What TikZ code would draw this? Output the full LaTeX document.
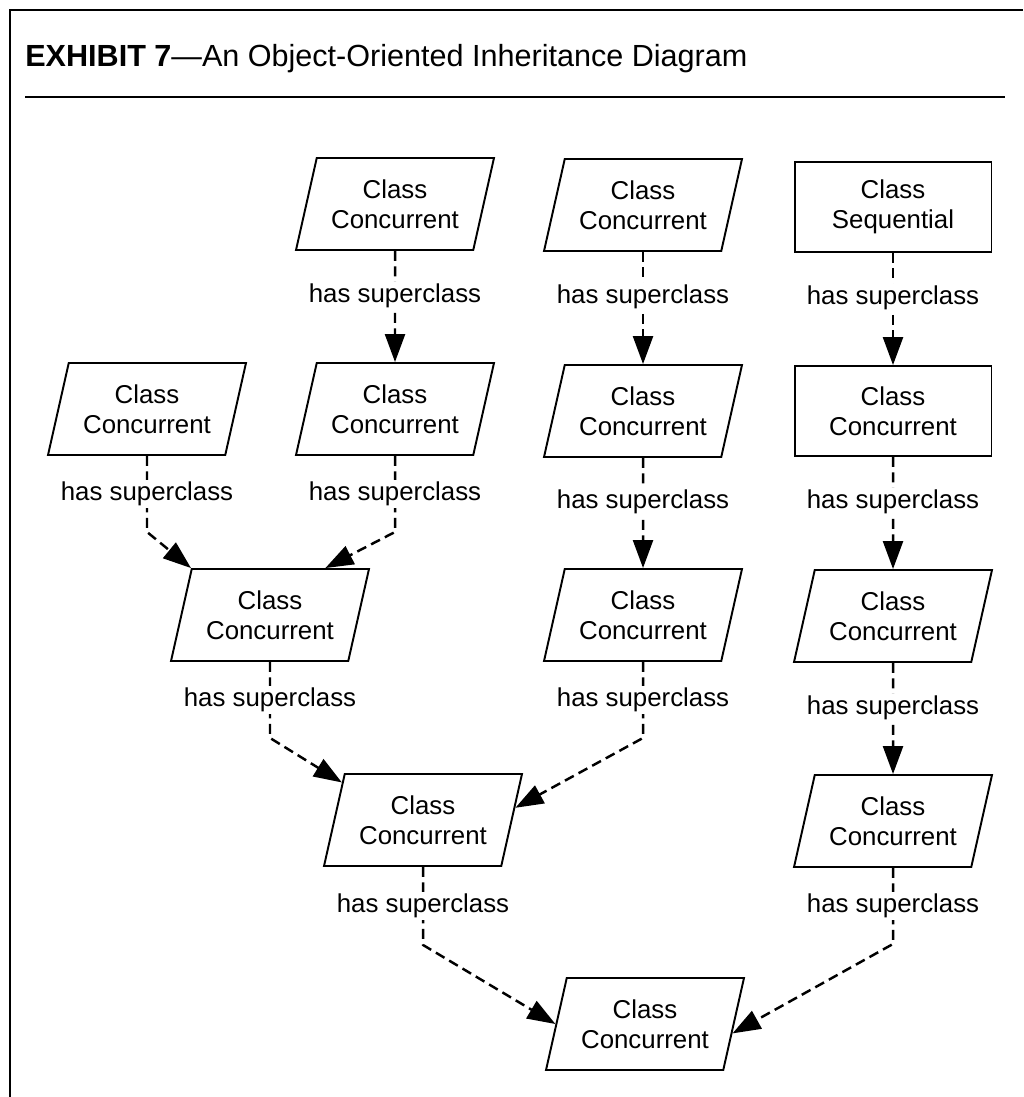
\documentclass[tikz,border=0pt]{standalone}
\usepackage{fontspec}
\setmainfont{Liberation Sans}
\usetikzlibrary{arrows.meta, shapes.geometric, calc}

\begin{document}
\begin{tikzpicture}[
    x=0.02cm, y=-0.02cm,
    font=\fontsize{14.7}{17}\selectfont,
    para/.style = {
        trapezium,
        trapezium left angle=67,
        trapezium right angle=113,
        trapezium stretches body,
        draw,
        line width=1.1pt,
        align=center,
        inner sep=0pt,
        minimum height=1.84cm,
        minimum width=3.96cm
    },
    box/.style = {
        rectangle,
        draw,
        line width=1.1pt,
        align=center,
        minimum height=1.8cm,
        minimum width=3.94cm
    },
    link/.style = {
        line width=1.4pt,
        dash pattern=on 0.2cm off 0.11cm,
        -{Triangle[length=0.56cm, width=0.4cm]}
    },
    lbl/.style = {fill=white, inner sep=1pt}
]

\useasboundingbox (0,0) rectangle (1023,1097);

% Frame and title
\draw[line width=1.3pt] (10,1097) -- (10,10) -- (1023,10);
\node[anchor=base west, inner sep=0pt, font=\fontsize{17.4}{20}\selectfont] (title) at (25,67)
    {\textbf{EXHIBIT 7}---An Object-Oriented Inheritance Diagram};
\draw[line width=1.3pt] (25,97) -- (1005,97);

% Classes with explicit coordinates
\node[para] (b1) at (395,204)  {Class\\Concurrent};
\node[para] (c1) at (643,205)  {Class\\Concurrent};
\node[box]  (d1) at (893,207)  {Class\\Sequential};

\node[para] (a2) at (147,409)  {Class\\Concurrent};
\node[para] (b2) at (395,409)  {Class\\Concurrent};
\node[para] (c2) at (643,411)  {Class\\Concurrent};
\node[box]  (d2) at (893,411)  {Class\\Concurrent};

\node[para] (e3) at (270,615)  {Class\\Concurrent};
\node[para] (c3) at (643,615)  {Class\\Concurrent};
\node[para] (d3) at (893,616)  {Class\\Concurrent};

\node[para] (f4) at (423,820)  {Class\\Concurrent};
\node[para] (d4) at (893,821)  {Class\\Concurrent};

\node[para] (g5) at (645,1024) {Class\\Concurrent};

% Straight superclass links
\draw[link] (b1) -- node[lbl, pos=0.4] {has superclass} (b2);
\draw[link] (c1) -- node[lbl, pos=0.4] {has superclass} (c2);
\draw[link] (c2) -- node[lbl, pos=0.4] {has superclass} (c3);
\draw[link] (d1) -- node[lbl, pos=0.4] {has superclass} (d2);
\draw[link] (d2) -- node[lbl, pos=0.4] {has superclass} (d3);
\draw[link] (d3) -- node[lbl, pos=0.4] {has superclass} (d4);

% Merging links
\draw[link] (a2.south) -- node[lbl] {has superclass} ++(0,76)
    -- (e3.top left corner);
\draw[link] (b2.south) -- node[lbl] {has superclass} ++(0,76)
    -- ($(e3.top left corner)!0.75!(e3.top right corner)$);
\draw[link] (e3.south) -- node[lbl] {has superclass} ++(0,76)
    -- ($(f4.top left corner)!0.1!(f4.bottom left corner)$);
\draw[link] (c3.south) -- node[lbl] {has superclass} ++(0,76)
    -- ($(f4.top right corner)!0.37!(f4.bottom right corner)$);
\draw[link] (f4.south) -- node[lbl] {has superclass} ++(0,78)
    -- ($(g5.top left corner)!0.5!(g5.bottom left corner)$);
\draw[link] (d4.south) -- node[lbl] {has superclass} ++(0,76)
    -- ($(g5.top right corner)!0.6!(g5.bottom right corner)$);

\end{tikzpicture}
\end{document}
